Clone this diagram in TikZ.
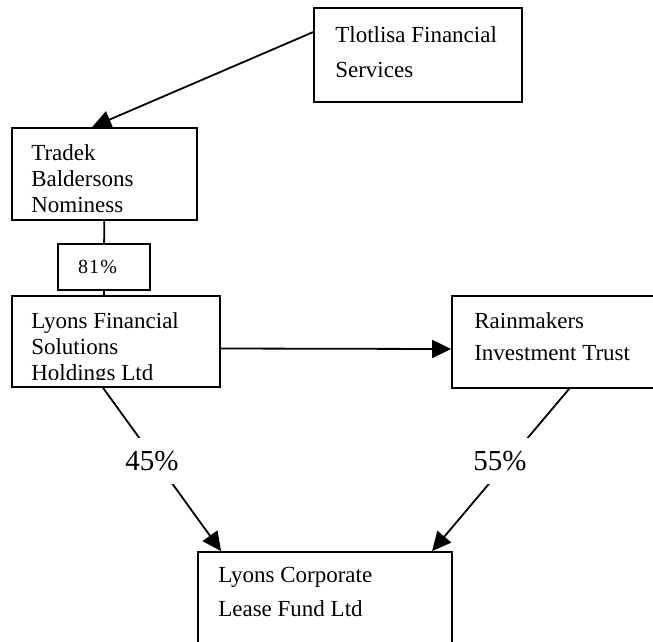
\documentclass[tikz,border=0pt]{standalone}
\usepackage{fontspec}
\setmainfont{Liberation Serif}
\usetikzlibrary{arrows.meta,calc}

\begin{document}
\begin{tikzpicture}[x=1pt, y=-1pt, >={Triangle[length=19pt,width=18pt]}]
\tikzset{
  entity/.style={draw, rectangle, inner sep=0pt, line width=1.8pt},
  boxtext/.style={anchor=base west, align=left, inner sep=0pt, font=\fontsize{23}{26}\selectfont},
  share/.style={fill=white, inner xsep=2pt, inner ysep=13pt, font=\fontsize{29}{32}\selectfont},
  link/.style={line width=1.8pt},
}
\useasboundingbox (0,0) rectangle (653,641);
\clip (0,0) rectangle (653,641);

% Entities
\node (tlot) [entity, minimum width=208pt, minimum height=94pt] at (418,55) {};
\node (tradek) [entity, minimum width=185pt, minimum height=92pt] at (104.5,174) {};
\node (p81) [entity, minimum width=92pt, minimum height=46pt, text width=52pt, inner xsep=20pt, align=left, font=\fontsize{20}{24}\selectfont\addfontfeature{LetterSpace=6}] at (104,267) {81\%};
\node (lfs) [entity, minimum width=208pt, minimum height=91pt] at (116,341.5) {};
\node (rain) [entity, minimum width=204pt, minimum height=92pt] at (554,342) {};
\node (lcf) [entity, minimum width=254pt, minimum height=108pt] at (325,606) {};

% Texts (base anchor sits on the last line)
\node (tlottext) [boxtext, font=\fontsize{23}{35}\selectfont] at ($(tlot.north west)+(22,70)$) {Tlotlisa Financial\\Services};
\node (tradektext) [boxtext] at ($(tradek.north west)+(20,85)$) {Tradek\\Baldersons\\Nominess};
\begin{scope}
  \clip (lfs.north west) rectangle ($(lfs.south east)+(0,-8)$);
  \node (lfstext) [boxtext] at ($(lfs.north west)+(20,85)$) {Lyons Financial\\Solutions\\Holdings Ltd};
\end{scope}
\node (raintext) [boxtext, font=\fontsize{23}{32}\selectfont] at ($(rain.north west)+(23,65)$) {Rainmakers\\Investment Trust};
\node (lcftext) [boxtext, font=\fontsize{23}{34}\selectfont] at ($(lcf.north west)+(21,65)$) {Lyons Corporate\\Lease Fund Ltd};

% Connectors
\draw[link, ->] ($(tlot.north west)+(0,25)$) -- ($(tradek.north west)+(81,0)$);
\draw[link] (tradek) -- (p81);
\draw[link] (p81.south) -- (p81.south |- lfs.north);
\draw[link, ->] ($(lfs.east)+(0,7)$) -- ($(rain.west)+(0,7)$);
\draw[link, ->] ($(lfs.south west)+(92,0)$) -- ($(lcf.north west)+(24,0)$);
\draw[link, ->] ($(rain.south west)+(118,0)$) -- ($(lcf.north west)+(235,0)$);

% Shares
\node (s45) [share] at (152,461) {45\%};
\node (s55) [share] at (500,461) {55\%};

\end{tikzpicture}
\end{document}
